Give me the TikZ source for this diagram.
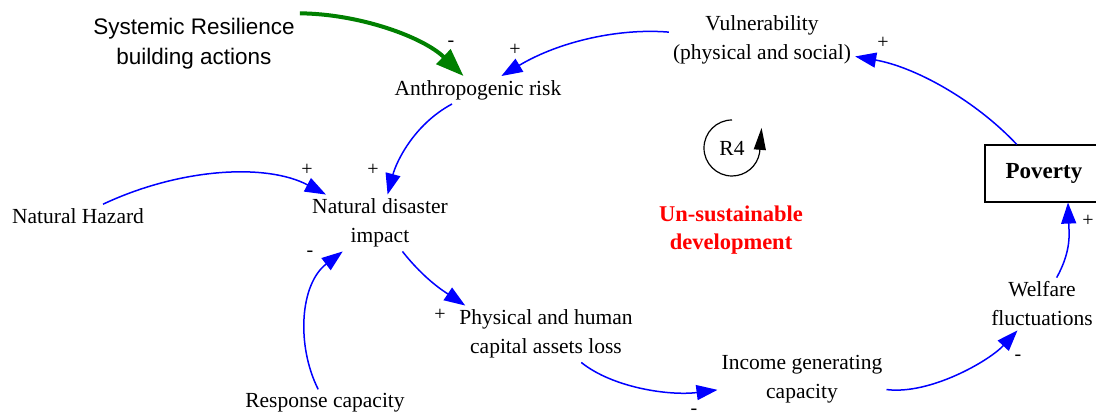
\documentclass[tikz,border=0pt]{standalone}
\usepackage{fontspec}
\setmainfont{Liberation Serif}
\newfontfamily\sansf{Liberation Sans}
\usetikzlibrary{arrows.meta}
\definecolor{linkblue}{RGB}{0,0,255}
\definecolor{actgreen}{RGB}{0,128,0}
\definecolor{warnred}{RGB}{255,0,0}
\begin{document}
\begin{tikzpicture}[x=1pt,y=-1pt,
  var/.style={font=\fontsize{21.5}{29}\selectfont, align=center, inner sep=4pt},
  pol/.style={font=\fontsize{20}{20}\selectfont, inner sep=0pt},
  link/.style={draw=linkblue, line width=1.5pt, -{Triangle[length=21pt,width=15pt]}},
  actlink/.style={draw=actgreen, line width=4pt, -{Triangle[length=28pt,width=20pt]}},
  loopmark/.style={draw=black, line width=1.2pt, -{Triangle[length=22pt,width=12pt]}}]
\path[use as bounding box, fill=white] (0,0) rectangle (1096,419);

% variables
\node[font=\sansf\fontsize{22.5}{30}\selectfont, align=center, inner sep=5pt] (sys) at (194,44) {Systemic Resilience\\building actions};
\node[var] (anth) at (478,90) {Anthropogenic risk};
\node[var] (vul) at (762,40) {Vulnerability\\(physical and social)};
\node[var] (nh) at (78,216) {Natural Hazard};
\node[var] (nd) at (380,223) {Natural disaster\\impact};
\node[var] (phys) at (546,334) {Physical and human\\capital assets loss};
\node[var] (resp) at (325,403) {Response capacity};
\node[var] (inc) at (802,379) {Income generating\\capacity};
\node[var] (wel) at (1042,304) {Welfare\\fluctuations};
\node[draw, line width=1.2pt, font=\bfseries\fontsize{23}{23}\selectfont, minimum width=118pt, minimum height=57pt, inner sep=0pt] (pov) at (1044,173.5) {Poverty};

% loop marker and label
\node[var, inner sep=0pt] (r4) at (732,148) {R4};
\node[font=\bfseries\fontsize{22.5}{28}\selectfont, text=warnred, align=center] (usd) at (731,230) {Un-sustainable\\development};
\draw[loopmark] (r4) ++(0,-28) arc[start angle=90, end angle=350, radius=28pt] -- ++(2,-25);

% causal links
\draw[actlink] (sys.north east) .. controls (360,14) and (423,37) .. (anth);
\draw[link] (vul) .. controls (620,28) and (560,41) .. (anth);
\draw[link] (pov) .. controls (975,100) and (915,67) .. (vul);
\draw[link] (anth) .. controls (413,125) and (396,163) .. (nd);
\draw[link] (nh) .. controls (180,168) and (266,163) .. (nd);
\draw[link] (resp) .. controls (296,345) and (300,284) .. (nd);
\draw[link] (nd) .. controls (425,280) and (445,292) .. ([xshift=10pt]phys.north west);
\draw[link] (phys) .. controls (613,388) and (670,396) .. (inc);
\draw[link] (inc) .. controls (930,395) and (989,361) .. (wel);
\draw[link] (wel) .. controls (1072,250) and (1069,232) .. ([xshift=24pt]pov.south);

% link polarities
\node[pol] (s1) at (451,44) {-};
\node[pol] (s2) at (515,50) {+};
\node[pol] (s3) at (883,43) {+};
\node[pol] (s4) at (307,170) {+};
\node[pol] (s5) at (373,170) {+};
\node[pol] (s6) at (310,254) {-};
\node[pol] (s7) at (440,315) {+};
\node[pol] (s8) at (694,412) {-};
\node[pol] (s9) at (1018,358) {-};
\node[pol] (s10) at (1088,221) {+};
\end{tikzpicture}
\end{document}
